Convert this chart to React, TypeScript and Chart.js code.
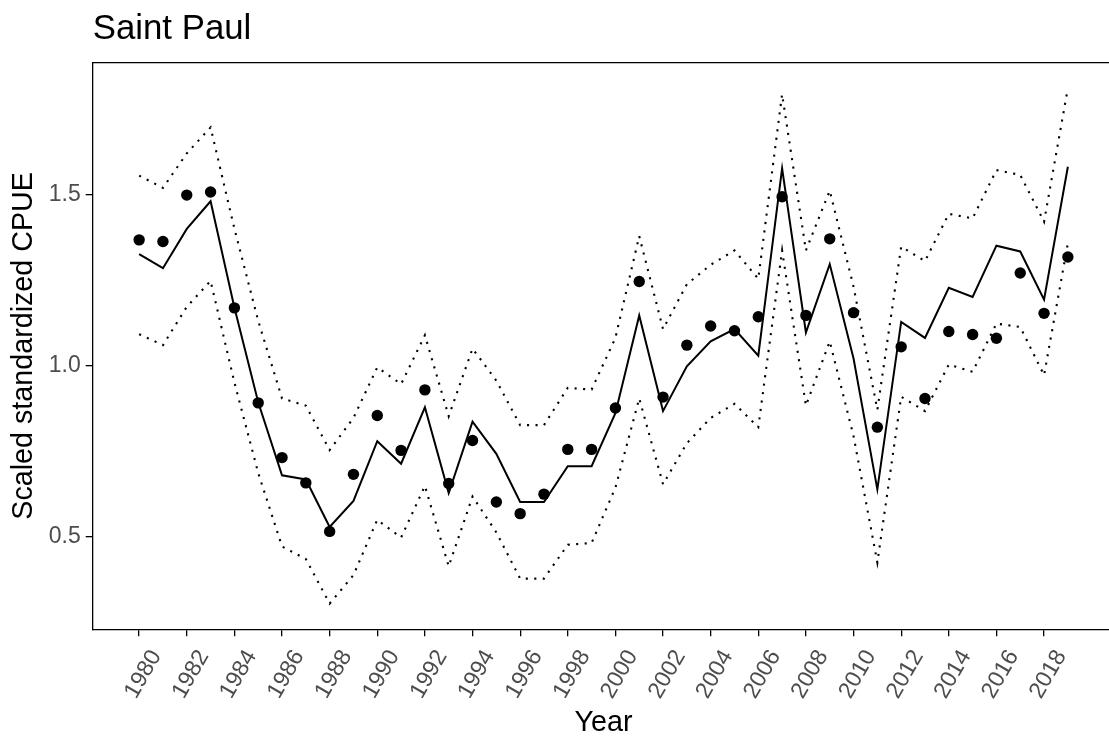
import React, { useEffect, useRef } from "react";
import { Chart, registerables } from "chart.js";

Chart.register(...registerables);

const years = [
  1980, 1981, 1982, 1983, 1984, 1985, 1986, 1987, 1988, 1989,
  1990, 1991, 1992, 1993, 1994, 1995, 1996, 1997, 1998, 1999,
  2000, 2001, 2002, 2003, 2004, 2005, 2006, 2007, 2008, 2009,
  2010, 2011, 2012, 2013, 2014, 2015, 2016, 2017, 2018, 2019,
];

const observed = [
  1.367, 1.362, 1.498, 1.507, 1.168, 0.890, 0.730, 0.656, 0.514, 0.681,
  0.853, 0.751, 0.928, 0.654, 0.780, 0.600, 0.566, 0.623, 0.754, 0.754,
  0.875, 1.245, 0.907, 1.059, 1.115, 1.101, 1.142, 1.493, 1.146, 1.370,
  1.154, 0.819, 1.054, 0.903, 1.099, 1.090, 1.079, 1.270, 1.152, 1.317,
];

const fitted = [
  1.325, 1.284, 1.399, 1.480, 1.169, 0.892, 0.678, 0.666, 0.527, 0.603,
  0.778, 0.712, 0.877, 0.626, 0.835, 0.741, 0.600, 0.600, 0.705, 0.705,
  0.860, 1.146, 0.866, 0.997, 1.070, 1.106, 1.028, 1.576, 1.096, 1.296,
  1.020, 0.637, 1.127, 1.080, 1.227, 1.200, 1.350, 1.333, 1.192, 1.581,
];

const upper = [
  1.555, 1.519, 1.620, 1.696, 1.400, 1.130, 0.903, 0.882, 0.752, 0.846,
  0.994, 0.945, 1.088, 0.851, 1.049, 0.955, 0.825, 0.825, 0.934, 0.929,
  1.080, 1.378, 1.106, 1.237, 1.294, 1.336, 1.253, 1.793, 1.336, 1.511,
  1.230, 0.870, 1.347, 1.305, 1.443, 1.430, 1.571, 1.557, 1.420, 1.811,
];

const lower = [
  1.091, 1.059, 1.171, 1.247, 0.950, 0.685, 0.470, 0.433, 0.303, 0.386,
  0.548, 0.496, 0.647, 0.412, 0.616, 0.511, 0.376, 0.376, 0.475, 0.480,
  0.642, 0.903, 0.652, 0.772, 0.846, 0.887, 0.819, 1.336, 0.882, 1.070,
  0.793, 0.423, 0.908, 0.866, 1.002, 0.981, 1.122, 1.112, 0.971, 1.357,
];

const xTickYears = [
  1980, 1982, 1984, 1986, 1988, 1990, 1992, 1994, 1996, 1998,
  2000, 2002, 2004, 2006, 2008, 2010, 2012, 2014, 2016, 2018,
];

const yTickValues = [0.5, 1.0, 1.5];

const FONT = "'Liberation Sans', Arial, Helvetica, sans-serif";

export default function App() {
  const ref = useRef<HTMLCanvasElement>(null);

  useEffect(() => {
    const toXY = (vals: number[]) => years.map((x, i) => ({ x, y: vals[i] }));
    const xMin = 1978.05;
    const xMax = 2020.95;
    const yMin = 0.2276;
    const yMax = 1.886;

    const chart = new Chart(ref.current as HTMLCanvasElement, {
      type: "scatter",
      data: {
        datasets: [
          {
            label: "upper",
            data: toXY(upper),
            showLine: true,
            borderColor: "#000",
            borderWidth: 2.1,
            borderDash: [2.1, 6.4],
            borderCapStyle: "butt",
            pointRadius: 0,
            tension: 0,
          },
          {
            label: "lower",
            data: toXY(lower),
            showLine: true,
            borderColor: "#000",
            borderWidth: 2.1,
            borderDash: [2.1, 6.4],
            borderCapStyle: "butt",
            pointRadius: 0,
            tension: 0,
          },
          {
            label: "fitted",
            data: toXY(fitted),
            showLine: true,
            borderColor: "#000",
            borderWidth: 2,
            pointRadius: 0,
            tension: 0,
          },
          {
            label: "observed",
            data: toXY(observed),
            showLine: false,
            backgroundColor: "#000",
            borderColor: "#000",
            borderWidth: 0,
            pointRadius: 5.7,
          },
        ],
      },
      options: {
        responsive: false,
        animation: false,
        events: [],
        layout: { padding: { top: 0, left: 0, right: 3.4, bottom: 0 } },
        plugins: {
          legend: { display: false },
          tooltip: { enabled: false },
          title: {
            display: true,
            text: "Saint Paul",
            align: "start",
            fullSize: false,
            color: "#000",
            font: { family: FONT, size: 34.8, weight: "normal" },
            padding: { top: 8.2, bottom: 12.5 },
          },
        },
        scales: {
          x: {
            type: "linear",
            position: "bottom",
            min: xMin,
            max: xMax,
            afterBuildTicks: (s: any) => {
              s.ticks = xTickYears.map((v) => ({ value: v }));
            },
            afterFit: (s: any) => {
              s.height = 110.7;
            },
            ticks: {
              autoSkip: false,
              minRotation: 60,
              maxRotation: 60,
              padding: 9,
              labelOffset: 17,
              color: "#4d4d4d",
              font: { family: FONT, size: 23 },
              callback: (v: any) => String(v),
            },
            grid: {
              drawOnChartArea: false,
              drawTicks: true,
              tickLength: 7,
              color: "#000",
              lineWidth: 1.3,
            },
            border: { display: true, color: "#000", width: 1.3 },
            title: {
              display: true,
              text: "Year",
              color: "#000",
              font: { family: FONT, size: 28.7 },
              padding: { top: 0, bottom: 0 },
            },
          },
          x2: {
            type: "linear",
            position: "top",
            min: xMin,
            max: xMax,
            ticks: { display: false },
            grid: { drawOnChartArea: false, drawTicks: false },
            border: { display: true, color: "#000", width: 1.3 },
          },
          y: {
            type: "linear",
            position: "left",
            min: yMin,
            max: yMax,
            afterBuildTicks: (s: any) => {
              s.ticks = yTickValues.map((v) => ({ value: v }));
            },
            afterFit: (s: any) => {
              s.width = 92.7;
            },
            ticks: {
              padding: 5,
              color: "#4d4d4d",
              font: { family: FONT, size: 23 },
              callback: (v: any) => Number(v).toFixed(1),
            },
            grid: {
              drawOnChartArea: false,
              drawTicks: true,
              tickLength: 7,
              color: "#000",
              lineWidth: 1.3,
            },
            border: { display: true, color: "#000", width: 1.3 },
            title: {
              display: true,
              text: "Scaled standardized CPUE",
              color: "#000",
              font: { family: FONT, size: 28.7 },
              padding: { top: 6.5, bottom: 0 },
            },
          },
          y2: {
            type: "linear",
            position: "right",
            min: yMin,
            max: yMax,
            ticks: { display: false },
            grid: { drawOnChartArea: false, drawTicks: false },
            border: { display: true, color: "#000", width: 1.3 },
          },
        },
      } as any,
    });
    return () => chart.destroy();
  }, []);

  return (
    <div
      style={{
        position: "fixed",
        left: 0,
        top: 0,
        width: 1109,
        height: 740,
        overflow: "hidden",
        background: "#fff",
      }}
    >
      <canvas
        ref={ref}
        width={1120}
        height={740}
        style={{ display: "block", width: 1120, height: 740 }}
      />
    </div>
  );
}
